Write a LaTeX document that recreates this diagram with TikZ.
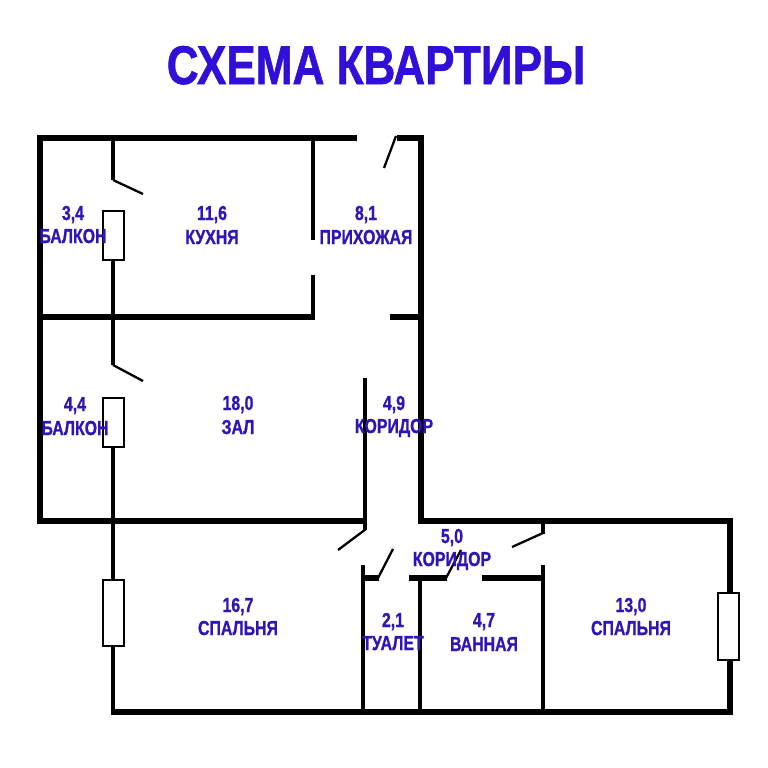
\documentclass[tikz,border=0pt]{standalone}
\usepackage{fontspec}
\setmainfont{Liberation Sans}[BoldFeatures={FakeBold=1.2}]
\definecolor{titleblue}{HTML}{3010D8}
\definecolor{labelblue}{HTML}{3014B4}

\begin{document}
\begin{tikzpicture}
    [
        x=0.02cm,y=-0.02cm,
        outerwall/.style={line width=3.2pt},
        sidewall/.style={line width=2.8pt},
        innerwall/.style={line width=2.8pt},
        stubwall/.style={line width=3.1pt},
        doorleaf/.style={line width=1.3pt},
        windowbox/.style={draw, fill=white, line width=1.2pt},
        roomtext/.style={text=labelblue, font=\bfseries\fontsize{11.5}{12}\selectfont, inner sep=0pt, anchor=base, xscale=0.785, transform shape},
    ]
    \useasboundingbox (0,0) rectangle (768,768);

    % outer walls
    \draw [outerwall] (357,138) -- (40,138) -- (40,521) -- (365,521);
    \draw [outerwall] (397,138) -- (421,138) -- (421,521) -- (730,521) -- (730,712) -- (110.5,712);

    % left wall with windows
    \draw [sidewall] (113,138) -- (113,180);
    \draw [sidewall] (113,260) -- (113,365);
    \draw [sidewall] (113,447) -- (113,580);
    \draw [sidewall] (113,646) -- (113,712);

    % inner walls
    \draw [outerwall] (40,317) -- (315,317);
    \draw [outerwall] (390,317) -- (421,317);
    \draw [innerwall] (313,138) -- (313,240);
    \draw [innerwall] (313,275) -- (313,319);
    \draw [innerwall] (365,378) -- (365,530);
    \draw [innerwall] (363,565) -- (363,712);
    \draw [innerwall] (420,578) -- (420,712);
    \draw [innerwall] (543,565) -- (543,712);
    \draw [innerwall] (543,521) -- (543,534);
    \draw [stubwall] (363,578) -- (379,578);
    \draw [stubwall] (409,578) -- (447,578);
    \draw [stubwall] (482,578) -- (545,578);

    % doors
    \draw [doorleaf] (396,136) -- (384,168);
    \draw [doorleaf] (113,180) -- (143,194);
    \draw [doorleaf] (113,365) -- (143,381);
    \draw [doorleaf] (366,529) -- (338,550);
    \draw [doorleaf] (378,578) -- (393,549);
    \draw [doorleaf] (446,578) -- (461,550);
    \draw [doorleaf] (543,533) -- (512,547);

    % windows
    \draw [windowbox] (103,211) rectangle (124,260);
    \draw [windowbox] (103,398) rectangle (124,447);
    \draw [windowbox] (103,580) rectangle (124,646);
    \draw [windowbox] (718,593) rectangle (739,660);

    % title
    \node (title) at (376,84) [text=titleblue, font=\bfseries\fontsize{31}{36}\selectfont, inner sep=0pt, anchor=base, xscale=0.81, transform shape] {СХЕМА КВАРТИРЫ};

    % rooms
    \node (balkon1a) at (73,220)  [roomtext] {3,4};
    \node (balkon1b) at (73,243)  [roomtext] {БАЛКОН};
    \node (kitchena) at (212,220) [roomtext] {11,6};
    \node (kitchenb) at (212,244) [roomtext] {КУХНЯ};
    \node (halla)    at (366,220) [roomtext] {8,1};
    \node (hallb)    at (366,244) [roomtext] {ПРИХОЖАЯ};

    \node (balkon2a) at (75,411)  [roomtext] {4,4};
    \node (balkon2b) at (75,435)  [roomtext] {БАЛКОН};
    \node (zala)     at (238,410) [roomtext] {18,0};
    \node (zalb)     at (238,434) [roomtext] {ЗАЛ};
    \node (corr1a)   at (394,410) [roomtext] {4,9};
    \node (corr1b)   at (394,433) [roomtext] {КОРИДОР};

    \node (bed1a)    at (238,612) [roomtext] {16,7};
    \node (bed1b)    at (238,635) [roomtext] {СПАЛЬНЯ};
    \node (corr2a)   at (452,543) [roomtext] {5,0};
    \node (corr2b)   at (452,566) [roomtext] {КОРИДОР};
    \node (wca)      at (393,627) [roomtext] {2,1};
    \node (wcb)      at (393,650) [roomtext] {ТУАЛЕТ};
    \node (batha)    at (484,627) [roomtext] {4,7};
    \node (bathb)    at (484,651) [roomtext] {ВАННАЯ};
    \node (bed2a)    at (631,612) [roomtext] {13,0};
    \node (bed2b)    at (631,635) [roomtext] {СПАЛЬНЯ};

\end{tikzpicture}
\end{document}
